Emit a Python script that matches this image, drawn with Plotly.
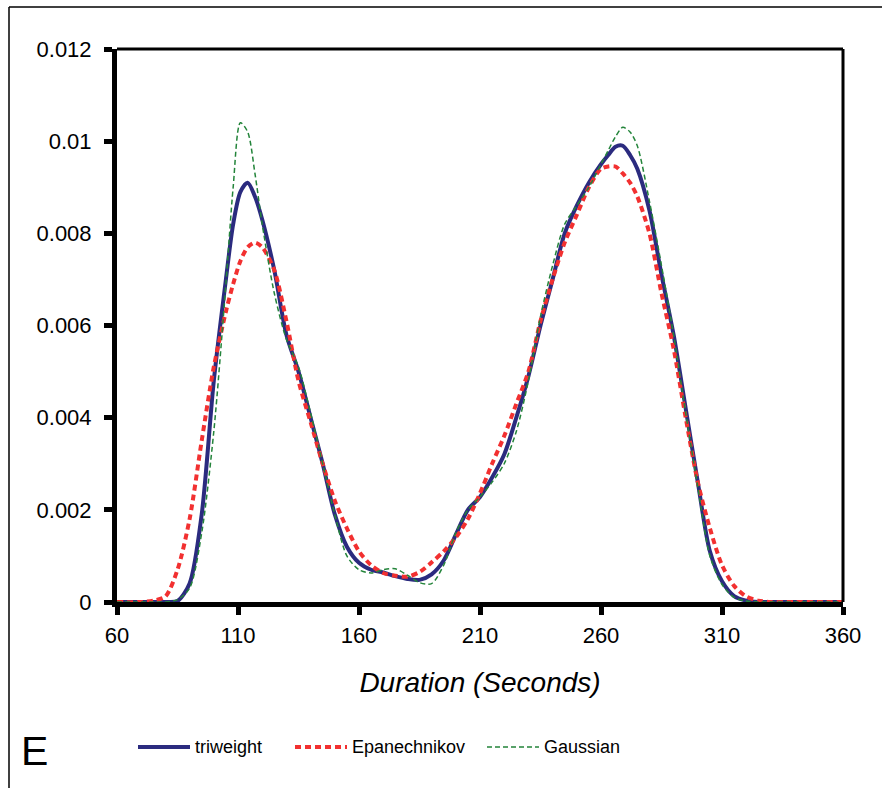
import plotly.graph_objects as go

# ---- data ----
duration = [60, 70, 75, 80, 85, 90, 95, 100, 105, 108, 111, 114, 117, 120, 125, 130, 135, 140, 145,
            150, 155, 160, 165, 170, 175, 180, 185, 190, 195, 200, 205, 210, 215, 220, 225, 230,
            235, 240, 245, 250, 255, 260, 263, 266, 269, 272, 275, 280, 285, 290, 295, 300, 305,
            310, 315, 320, 325, 330, 340, 350, 360]

triweight = [0, 0, 0, 0, 0.00002, 0.0004, 0.0019, 0.0048, 0.0070, 0.0082, 0.0089, 0.0091, 0.0088,
             0.0083, 0.0072, 0.0058, 0.0050, 0.0040, 0.0030, 0.0019, 0.0012, 0.00085, 0.0007,
             0.00064, 0.00056, 0.0005, 0.00048, 0.0006, 0.0009, 0.00146, 0.0020, 0.00228, 0.0027,
             0.0032, 0.0040, 0.0049, 0.0060, 0.0070, 0.0080, 0.0086, 0.0091, 0.0095, 0.0097,
             0.00988, 0.0099, 0.0097, 0.0094, 0.0085, 0.0071, 0.0058, 0.0042, 0.0026, 0.0011,
             0.00045, 0.00013, 0.00003, 0, 0, 0, 0, 0]

epanechnikov = [0, 0, 0.00003, 0.00012, 0.0007, 0.0018, 0.0035, 0.0051, 0.0063, 0.0069, 0.0074,
                0.0077, 0.0078, 0.0077, 0.0072, 0.0061, 0.0048, 0.0039, 0.0030, 0.0022, 0.0016,
                0.0011, 0.0008, 0.00063, 0.00057, 0.00055, 0.00065, 0.00086, 0.0011, 0.0014,
                0.0018, 0.00236, 0.0030, 0.0036, 0.0043, 0.0050, 0.0061, 0.0070, 0.0078, 0.0084,
                0.0090, 0.0094, 0.00945, 0.00945, 0.0093, 0.0091, 0.0088, 0.0080, 0.0067, 0.0055,
                0.0040, 0.0026, 0.0016, 0.0008, 0.00035, 0.00012, 0.00003, 0, 0, 0, 0]

gaussian = [0, 0, 0, 0, 0.00005, 0.0003, 0.0015, 0.0037, 0.0069, 0.0090, 0.0104, 0.0102, 0.0093,
            0.0082, 0.0067, 0.0057, 0.0051, 0.0041, 0.0030, 0.0019, 0.0010, 0.0007, 0.00063,
            0.0007, 0.00072, 0.00058, 0.00042, 0.0004, 0.0008, 0.0015, 0.0020, 0.00228, 0.0026,
            0.0030, 0.0037, 0.0048, 0.0062, 0.0073, 0.0082, 0.0086, 0.0090, 0.0095, 0.0098,
            0.0101, 0.0103, 0.0102, 0.0099, 0.0087, 0.0073, 0.0058, 0.0041, 0.0025, 0.0010,
            0.00038, 0.0001, 0.00002, 0, 0, 0, 0, 0]

x_ticks = [60, 110, 160, 210, 260, 310, 360]
y_ticks = [0, 0.002, 0.004, 0.006, 0.008, 0.01, 0.012]
y_tick_labels = ["0", "0.002", "0.004", "0.006", "0.008", "0.01", "0.012"]

series_names = ["triweight", "Epanechnikov", "Gaussian"]
colors = ["#2B2B7F", "#F23030", "#23843A"]
widths = [4, 4, 1.5]
dashes = ["solid", "6px,4px", "5px,3px"]

FONT = "Liberation Sans, Arial, sans-serif"

fig = go.Figure()
for name, ys, c, w, d in zip(series_names, [triweight, epanechnikov, gaussian], colors, widths, dashes):
    fig.add_trace(go.Scatter(x=duration, y=ys, mode="lines", name=name,
                             line=dict(color=c, width=w, dash=d, shape="spline", smoothing=0.8),
                             showlegend=False))

fig.update_layout(
    width=882, height=788,
    margin=dict(l=117, r=39, t=49, b=186),
    paper_bgcolor="white", plot_bgcolor="white",
    font=dict(family=FONT, size=22, color="black"),
)
fig.update_xaxes(range=[60, 360], tickvals=x_ticks, ticks="outside", ticklen=8, tickwidth=5,
                 tickcolor="black", showline=True, linewidth=5, linecolor="black",
                 showgrid=False, zeroline=False, tickfont=dict(size=22), ticklabelstandoff=2,
                 title=dict(text="<i>Duration (Seconds)</i>", font=dict(size=28), standoff=26))
fig.update_yaxes(range=[0, 0.012], tickvals=y_ticks, ticktext=y_tick_labels, ticks="outside",
                 ticklen=8, tickwidth=5, tickcolor="black", showline=True, linewidth=5,
                 linecolor="black", showgrid=False, zeroline=False, tickfont=dict(size=22),
                 ticklabelstandoff=8)

# thinner top/right frame of the plot area
fig.add_shape(type="line", xref="paper", yref="paper", x0=0, x1=1, y0=1, y1=1,
              line=dict(color="black", width=3))
fig.add_shape(type="line", xref="paper", yref="paper", x0=1, x1=1, y0=0, y1=1,
              line=dict(color="black", width=3))

# outer frame (top and left edges)
W, H = 882, 788
def px(xp):
    return (xp - 117) / (843 - 117)
def py(yp):
    return (602 - yp) / (602 - 49)
fig.add_shape(type="line", xref="paper", yref="paper", x0=px(9), x1=px(W + 5), y0=py(7), y1=py(7),
              line=dict(color="black", width=1.5))
fig.add_shape(type="line", xref="paper", yref="paper", x0=px(9), x1=px(9), y0=py(7), y1=py(H + 5),
              line=dict(color="black", width=1.5))

# manual legend
legend_x = [138, 295, 487]
legend_y = 747
for name, c, w, d, lx in zip(series_names, colors, widths, dashes, legend_x):
    fig.add_shape(type="line", xref="paper", yref="paper", x0=px(lx), x1=px(lx + 52),
                  y0=py(legend_y), y1=py(legend_y), line=dict(color=c, width=w, dash=d))
    fig.add_annotation(xref="paper", yref="paper", x=px(lx + 55), y=py(legend_y), text=name,
                       showarrow=False, xanchor="left", yanchor="middle",
                       font=dict(size=18, family=FONT, color="black"))

fig.add_annotation(xref="paper", yref="paper", x=px(19), y=py(751), text="E", showarrow=False,
                   xanchor="left", yanchor="middle", font=dict(size=41, family=FONT, color="black"))

fig.write_html("out.html")
